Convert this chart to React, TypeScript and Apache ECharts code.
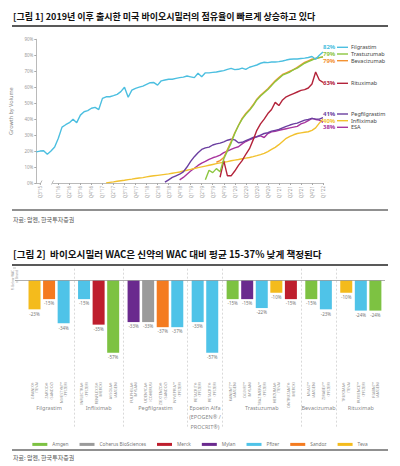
import React, { useEffect, useRef } from "react";
import * as echarts from "echarts";

// ---------- Figure 1 data ----------
const monthCount = 79;
const months = Array.from({ length: monthCount }, (_, i) => {
  const m = 6 + i; // Jul 2015 = index 0
  const y = 2015 + Math.floor(m / 12);
  return `${y}-${String((m % 12) + 1).padStart(2, "0")}`;
});
const tickLabels = [
  "Q3'15", "Q1'16", "Q2'16", "Q3'16", "Q4'16", "Q1'17", "Q2'17", "Q3'17", "Q4'17",
  "Q1'18", "Q2'18", "Q3'18", "Q4'18", "Q1'19", "Q2'19", "Q3'19", "Q4'19",
  "Q1'20", "Q2'20", "Q3'20", "Q4'20", "Q1'21", "Q2'21", "Q3'21", "Q4'21", "Q1'22",
];
const tickIndex = [1, 6, 9, 12, 15, 18, 21, 24, 27, 30, 33, 36, 39, 42, 45, 48, 51, 54, 57, 60, 63, 66, 69, 72, 75, 78];

const filgrastim = [19.5, 20, 20.2, 18, 20, 22.5, 28, 35, 36.5, 37.8, 40, 37.8, 42.5, 44.6, 45.3, 46.8, 47.4, 46, 53, 54,
  54, 54.7, 55.5, 57.2, 60, 53.7, 58.2, 59.3, 60, 60.7, 61.8, 62.8, 62.9, 61.3, 64, 64.5, 65, 65, 65.5, 66,
  66.3, 67, 66.5, 66, 68.7, 66.5, 69, 69, 69.3, 69.5, 70, 70.4, 71.2, 71.8, 71, 71.2, 72, 71.2, 72.5, 73.2,
  73.9, 75, 75.6, 75.4, 75.8, 75.8, 76, 76.4, 77, 77.5, 77.7, 77.7, 78, 78.2, 78.6, 79.2, 77.5, 80, 82];
const trastuzumabStart = 46;
const trastuzumab = [2, 8, 6.5, 9, 7, 15, 20, 25, 31, 36, 40, 43, 45.5, 48.5, 52, 54.5, 56.5, 58.5, 61, 63.5,
  65.5, 67.5, 68.5, 69.5, 71, 72, 73.5, 75, 76, 77, 78, 78.5, 79];
const bevacizumabStart = 49;
const bevacizumab = [13, 14, 16, 21, 26, 31.5, 36, 40.5, 43.5, 46, 49, 52.5, 55, 57, 59, 61.5, 64, 66, 68, 69,
  70, 71, 72.5, 74, 75.5, 76.5, 77.5, 78, 78.5, 79];
const rituximabStart = 50;
const rituximab = [3.6, 14, 4.5, 4.5, 7.5, 11, 14, 18, 21.5, 27, 33, 37, 40, 43.5, 46, 50.5, 48.5, 52, 54, 55,
  56, 57, 58, 58.5, 59.5, 62, 69.5, 64.5, 63];
const pegfilgrastimStart = 35;
const pegfilgrastim = [0.5, 2, 3.5, 4.5, 5.5, 7, 10, 13.5, 16.5, 19, 21, 22, 22.5, 23.8, 24.5, 25, 25.8, 26.8, 27.4, 27,
  25.2, 25.5, 26.5, 27.5, 28.5, 29, 30, 31, 31.5, 32.5, 33, 33.5, 34.5, 35.5, 36.3, 37, 37.5, 38.5, 39.4, 39.8,
  40.5, 40, 40, 41];
const infliximabStart = 19;
const infliximab = [0.1, 0.4, 0.7, 1.1, 1.4, 1.7, 2.1, 2.4, 2.8, 3.1, 3.4, 3.8, 4.2, 4.5, 4.8, 5.1, 5.4, 5.7, 6.1, 6.5,
  6.9, 7.5, 8, 8.5, 9.1, 9.6, 10.1, 10.6, 11.1, 11.6, 12.1, 12.6, 13, 13.4, 13.9, 14.3, 14.7, 15.2, 15.6, 16,
  16.5, 17.1, 17.8, 18.6, 19.7, 21, 22.3, 24, 26, 28, 29.2, 30.2, 31, 31.4, 31.8, 32.1, 33, 34.5, 37.5, 40];
const esaStart = 39;
const esa = [2, 3.5, 5.5, 7.5, 9.2, 11, 12.5, 13.5, 14.8, 15.8, 16.5, 17.5, 19, 20, 21, 22, 22.7, 24.5, 26, 27,
  28, 29, 29.5, 28.5, 31, 32, 32.3, 33, 33.5, 34, 34.5, 35, 35.5, 37, 37.8, 39, 40.5, 39.8, 39.4, 38];

const lineNames = ["Filgrastim", "Trastuzumab", "Bevacizumab", "Rituximab", "Pegfilgrastim", "Infliximab", "ESA"];
const lineColors = ["#4cbfe0", "#8cc63f", "#f39232", "#b3233a", "#6b3fa0", "#f2c12e", "#a8359e"];
const lineValues = [filgrastim, trastuzumab, bevacizumab, rituximab, pegfilgrastim, infliximab, esa];
const lineStarts = [0, trastuzumabStart, bevacizumabStart, rituximabStart, pegfilgrastimStart, infliximabStart, esaStart];
const finalShare = ["82%", "79%", "79%", "63%", "41%", "40%", "38%"];
const legendRowY = [47.3, 54, 60.7, 83.3, 114, 120.7, 127.3];

// ---------- Figure 2 data ----------
const companies = ["Amgen", "Coherus BioSciences", "Merck", "Mylan", "Pfizer", "Sandoz", "Teva"];
const companyColors = ["#7dc242", "#9b9b9b", "#be1e2d", "#6a2a8e", "#4fc3e8", "#f47b20", "#f4bb1c"];
const groupNames = ["Filgrastim", "Infliximab", "Pegfilgrastim", "Epoetin Alfa\n(EPOGEN® /\nPROCRIT®)", "Trastuzumab", "Bevacizumab", "Rituximab"];
const barGroup = [0, 0, 0, 1, 1, 1, 2, 2, 2, 2, 3, 3, 4, 4, 4, 4, 4, 5, 5, 6, 6, 6];
const barCompany = ["Teva", "Sandoz", "Pfizer", "Pfizer", "Merck", "Amgen", "Mylan", "Coherus BioSciences", "Sandoz", "Pfizer",
  "Pfizer", "Pfizer", "Amgen", "Mylan", "Pfizer", "Teva", "Merck", "Amgen", "Pfizer", "Teva", "Pfizer", "Amgen"];
const productNames = ["GRANIX®\n(TEVA)", "ZARXIO®\n(SANDOZ)", "NIVESTYM™\n(PFIZER)", "INFLECTRA®\n(PFIZER)", "RENFLEXIS®\n(MERCK)",
  "AVSOLA®\n(AMGEN)", "FULPHILA®\n(MYLAN)", "UDENYCA®\n(COHERUS)", "ZIEXTENZO®\n(SANDOZ)", "NYVEPRIA™\n(PFIZER)",
  "RETACRIT®\n(PFIZER)", "RETACRIT®\n(PFIZER)", "KANJINTI™\n(AMGEN)", "OGIVRI™\n(MYLAN)", "TRAZIMERA™\n(PFIZER)",
  "HERZUMA®\n(TEVA)", "ONTRUZANT®\n(MERCK)", "MVASI™\n(AMGEN)", "ZIRABEV™\n(PFIZER)", "TRUXIMA®\n(TEVA)",
  "RUXIENCE™\n(PFIZER)", "RIABNI™\n(AMGEN)"];
const barDiscount = [-23, -15, -34, -15, -35, -57, -33, -33, -37, -37, -33, -57, -15, -15, -22, -10, -15, -15, -23, -10, -24, -24];

const title1 = "[그림 1] 2019년 이후 출시한 미국 바이오시밀러의 점유율이 빠르게 상승하고 있다";
const title2 = "[그림 2]  바이오시밀러 WAC은 신약의 WAC 대비 평균 15-37% 낮게 책정된다";
const sourceText = "자료: 암젠, 한국투자증권";

const FONT = "'Noto Sans', 'Noto Sans CJK KR', sans-serif";
const KFONT = "'Noto Sans CJK KR', 'Noto Sans', sans-serif";

export default function App() {
  const ref = useRef<HTMLDivElement>(null);
  useEffect(() => {
    document.body.style.margin = "0";
    const chart = echarts.init(ref.current!, null, { renderer: "svg" });

    const groupGap = 0.4;
    const barPos = barGroup.map((g, i) => i + groupGap * g);
    const groupCenters = groupNames.map((_, g) => {
      const ps = barPos.filter((_, i) => barGroup[i] === g);
      return (ps[0] + ps[ps.length - 1]) / 2;
    });
    const dividers = groupNames.slice(1).map((_, g) => {
      const lastPrev = barPos.filter((_, i) => barGroup[i] === g).pop()!;
      const firstNext = barPos.find((_, i) => barGroup[i] === g + 1)!;
      return (lastPrev + firstNext) / 2;
    });

    const tickSet = new Set(tickIndex);
    const tickMap: Record<number, string> = {};
    tickIndex.forEach((t, k) => (tickMap[t] = tickLabels[k]));

    const lineSeries = lineNames.map((name, s) => ({
      name,
      type: "line",
      xAxisIndex: 0,
      yAxisIndex: 0,
      data: months.map((_, i) => {
        const j = i - lineStarts[s];
        return j >= 0 && j < lineValues[s].length ? lineValues[s][j] : null;
      }),
      symbol: "none",
      lineStyle: { color: lineColors[s], width: 1.4 },
      itemStyle: { color: lineColors[s] },
      z: 3 + (lineNames.length - s),
    }));

    const barSeries = companies.map((c, k) => ({
      name: c,
      type: "bar",
      xAxisIndex: 1,
      yAxisIndex: 1,
      barWidth: 12,
      barGap: "-100%",
      itemStyle: { color: companyColors[k] },
      data: barPos
        .map((p, i) => (barCompany[i] === c ? [p, barDiscount[i]] : null))
        .filter((d) => d !== null),
      label: {
        show: true,
        position: "bottom",
        distance: 2,
        fontSize: 4.5,
        color: "#777",
        fontFamily: FONT,
        formatter: (p: any) => `${p.value[1]}%`,
      },
      ...(k === 0
        ? {
            markLine: {
              silent: true,
              symbol: "none",
              label: { show: false },
              data: [
                ...dividers.map((d) => ({ xAxis: d, lineStyle: { color: "#c8c8c8", width: 0.7, type: [2, 2] } })),
                { yAxis: 0, lineStyle: { color: "#9a9a9a", width: 0.8, type: "solid" } },
              ],
            },
          }
        : {}),
    }));

    const legendGraphics: any[] = [];
    lineNames.forEach((n, s) => {
      const y = legendRowY[s];
      legendGraphics.push(
        { type: "text", x: 323, y, style: { text: finalShare[s], fill: lineColors[s], font: `bold 6px ${FONT}`, verticalAlign: "middle" } },
        { type: "line", shape: { x1: 337, y1: y, x2: 348, y2: y }, style: { stroke: lineColors[s], lineWidth: 1.4 } },
        { type: "text", x: 351, y, style: { text: n, fill: "#444", font: `5.5px ${FONT}`, verticalAlign: "middle" } },
      );
    });

    chart.setOption({
      animation: false,
      textStyle: { fontFamily: FONT },
      grid: [
        { left: 31.7, top: 39.3, width: 291.3, height: 143.7 },
        { left: 15, top: 267.25, width: 370, height: 159.4 },
      ],
      xAxis: [
        {
          type: "category",
          gridIndex: 0,
          data: months,
          boundaryGap: false,
          axisLine: { lineStyle: { color: "#a8a8a8", width: 0.8 } },
          axisTick: { show: true, length: 2, interval: (i: number) => tickSet.has(i), lineStyle: { color: "#a8a8a8" } },
          axisLabel: {
            interval: (i: number) => tickSet.has(i),
            formatter: (_v: string, i: number) => tickMap[i] ?? "",
            rotate: 90,
            fontSize: 4.5,
            color: "#999",
            margin: 3,
          },
          splitLine: { show: false },
        },
        {
          type: "value",
          gridIndex: 1,
          min: -1.34,
          max: 24.06,
          show: false,
        },
      ],
      yAxis: [
        {
          type: "value",
          gridIndex: 0,
          min: 0,
          max: 90,
          interval: 10,
          name: "Growth by Volume",
          nameLocation: "middle",
          nameGap: 14,
          nameTextStyle: { fontSize: 5.5, color: "#888" },
          axisLine: { show: true, lineStyle: { color: "#a8a8a8", width: 0.8 } },
          axisTick: { show: true, length: 2, lineStyle: { color: "#a8a8a8" } },
          axisLabel: { formatter: "{value}%", fontSize: 4.5, color: "#999", margin: 3 },
          splitLine: { show: false },
        },
        {
          type: "value",
          gridIndex: 1,
          min: -115,
          max: 10,
          show: false,
        },
      ],
      legend: {
        data: companies,
        top: 437,
        left: "center",
        icon: "rect",
        itemWidth: 15,
        itemHeight: 3,
        itemGap: 11,
        textStyle: { fontSize: 4.8, color: "#777" },
        selectedMode: false,
      },
      series: [
        ...lineSeries,
        ...barSeries,
        {
          name: "products",
          type: "scatter",
          xAxisIndex: 1,
          yAxisIndex: 1,
          symbolSize: 0,
          silent: true,
          data: barPos.map((p) => [p, -80]),
          label: {
            show: true,
            position: "inside",
            rotate: 90,
            align: "right",
            verticalAlign: "middle",
            fontSize: 3.8,
            lineHeight: 4.6,
            color: "#777",
            formatter: (p: any) => productNames[p.dataIndex],
          },
        },
        {
          name: "groups",
          type: "scatter",
          xAxisIndex: 1,
          yAxisIndex: 1,
          symbolSize: 0,
          silent: true,
          data: groupCenters.map((c) => [c, -96.5]),
          label: {
            show: true,
            position: "inside",
            align: "center",
            verticalAlign: "top",
            fontSize: 5.5,
            lineHeight: 9.5,
            color: "#666",
            formatter: (p: any) => groupNames[p.dataIndex],
          },
        },
      ],
      graphic: [
        { type: "text", x: 13, y: 16, style: { text: title1, fill: "#111", font: `bold 9px ${KFONT}`, verticalAlign: "middle" } },
        { type: "line", shape: { x1: 12, y1: 26, x2: 388, y2: 26 }, style: { stroke: "#222", lineWidth: 1.5 } },
        // axis break
        { type: "rect", shape: { x: 40.5, y: 181.5, width: 12, height: 3 }, style: { fill: "#fff" }, z: 50 },
        { type: "line", shape: { x1: 40, y1: 184.5, x2: 42, y2: 180.5 }, style: { stroke: "#999", lineWidth: 0.7 }, z: 51 },
        { type: "line", shape: { x1: 51.5, y1: 184.5, x2: 53.5, y2: 180.5 }, style: { stroke: "#999", lineWidth: 0.7 }, z: 51 },
        ...legendGraphics,
        { type: "line", shape: { x1: 12, y1: 210, x2: 388, y2: 210 }, style: { stroke: "#222", lineWidth: 1.2 } },
        { type: "text", x: 13, y: 219, style: { text: sourceText, fill: "#555", font: `6px ${KFONT}`, verticalAlign: "middle" } },
        { type: "text", x: 13, y: 254, style: { text: title2, fill: "#111", font: `bold 9.6px ${KFONT}`, verticalAlign: "middle" } },
        { type: "line", shape: { x1: 12, y1: 265, x2: 388, y2: 265 }, style: { stroke: "#222", lineWidth: 1.5 } },
        { type: "line", shape: { x1: 13, y1: 268, x2: 16, y2: 268 }, style: { stroke: "#999", lineWidth: 0.6 } },
        {
          type: "text", x: 15, y: 270, rotation: Math.PI / 2,
          style: { text: "% Below WAC\nof Brand", fill: "#999", font: `3.2px ${FONT}`, align: "right", verticalAlign: "middle", lineHeight: 4 },
        },
        { type: "line", shape: { x1: 12, y1: 450, x2: 388, y2: 450 }, style: { stroke: "#222", lineWidth: 1.2 } },
        { type: "text", x: 13, y: 457, style: { text: sourceText, fill: "#555", font: `6px ${KFONT}`, verticalAlign: "middle" } },
      ],
    });

    return () => chart.dispose();
  }, []);

  return <div ref={ref} style={{ width: 400, height: 466, background: "#fff" }} />;
}
